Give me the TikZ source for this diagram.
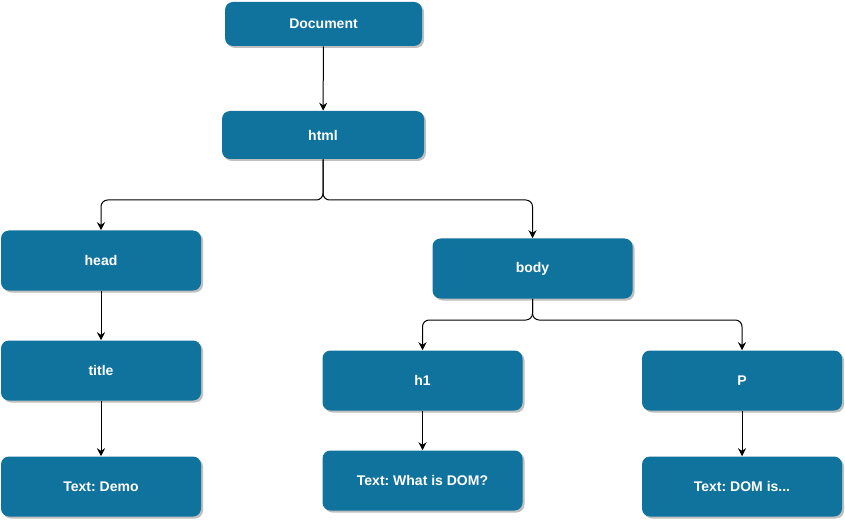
\documentclass[tikz,border=0pt]{standalone}
\usepackage{fontspec}
\setmainfont{Liberation Sans}
\usepackage{xcolor}
\usepackage{tikz}
\usetikzlibrary{positioning, arrows.meta, shadows}

\definecolor{domblue}{HTML}{10739E}
\frenchspacing

\tikzset{
    domnode/.style={draw=none, fill=domblue, rounded corners=6pt, text=white,
        font=\bfseries\fontsize{10.5}{12}\selectfont,
        minimum width=150pt, minimum height=45pt, inner sep=0pt,
        drop shadow={shadow xshift=1.5pt, shadow yshift=-1.5pt, opacity=1, fill=black!25}},
    link/.style={-{Stealth[length=6pt, width=6pt]}, line width=0.75pt, rounded corners=5pt}
}

\begin{document}
\begin{tikzpicture}[x=0.75pt, y=-0.75pt]
            \useasboundingbox (0,0) rectangle (845,520);

            % Root and html
            \node[domnode, minimum width=147.75pt, minimum height=33pt] (document) at (323.5,24) {Document};
            \node[domnode, minimum width=151.5pt, minimum height=36pt] (html) at (323,135) {html};

            % head branch
            \node[domnode] (head) at (101,260.5) {head};
            \node[domnode] (title) at (101,370.5) {title};
            \node[domnode] (demo) at (101,486.5) {Text: Demo};

            % body branch
            \node[domnode] (body) at (532.5,268.5) {body};
            \node[domnode] (h1) at (422.5,380.5) {h1};
            \node[domnode] (p) at (742,380.5) {P};
            \node[domnode] (whatis) at (422.5,480.5) {Text: What is DOM?};
            \node[domnode] (domis) at (742,486.5) {Text: DOM is...};

            % Split points
            \coordinate (htmlsplit) at (323,200);
            \coordinate (bodysplit) at (532,320);

            % Connectors
            \draw[link] (document) -- (html);
            \draw[link] (html.south) |- (head.north |- htmlsplit) -- (head.north);
            \draw[link] (html.south) |- (body.north |- htmlsplit) -- (body.north);
            \draw[link] (head) -- (title);
            \draw[link] (title) -- (demo);
            \draw[link] (body.south) |- (h1.north |- bodysplit) -- (h1.north);
            \draw[link] (body.south) |- (p.north |- bodysplit) -- (p.north);
            \draw[link] (h1) -- (whatis);
            \draw[link] (p) -- (domis);
        \end{tikzpicture}
\end{document}
